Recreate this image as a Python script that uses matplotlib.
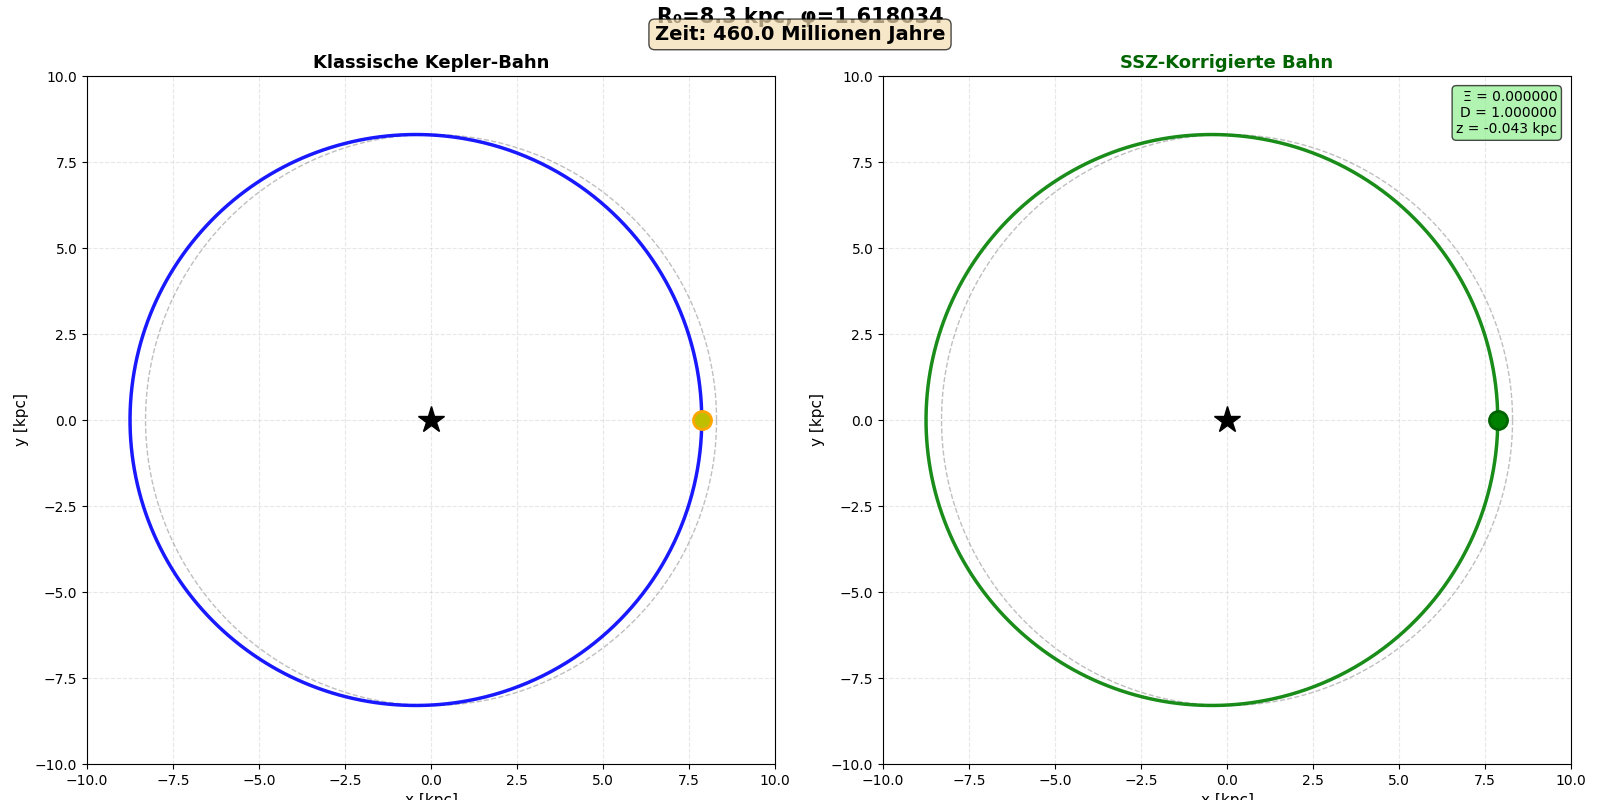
import numpy as np
import matplotlib
matplotlib.use("Agg")
import matplotlib.pyplot as plt

# Parameters
R0 = 8.3            # kpc, reference circle radius
phi = 1.618034
a_orbit = 8.31      # semi-major axis of orbit
e_orbit = 0.053     # eccentricity (focus at origin)
time_myr = 460.0
body_pos = [7.87, 0.0]
xi_val = 0.000000
d_val = 1.000000
z_val = -0.043

axis_ticks = [-10.0, -7.5, -5.0, -2.5, 0.0, 2.5, 5.0, 7.5, 10.0]

theta = np.linspace(0, 2 * np.pi, 1000)
r_orb = a_orbit * (1 - e_orbit**2) / (1 + e_orbit * np.cos(theta))
x_orb = r_orb * np.cos(theta)
y_orb = r_orb * np.sin(theta)
x_ref = R0 * np.cos(theta)
y_ref = R0 * np.sin(theta)

fig = plt.figure(figsize=(16, 8), dpi=100)
ax1 = fig.add_axes([0.0544, 0.045, 0.43, 0.86])
ax2 = fig.add_axes([0.5519, 0.045, 0.43, 0.86])

for ax, col, title, tcol, mface, medge in [
    (ax1, 'blue', 'Klassische Kepler-Bahn', 'black', 'y', 'orange'),
    (ax2, 'green', 'SSZ-Korrigierte Bahn', 'darkgreen', 'green', 'darkgreen'),
]:
    ax.plot(x_ref, y_ref, '--', color='gray', lw=1, alpha=0.5)
    ax.plot(x_orb, y_orb, '-', color=col, lw=2.5, alpha=0.9)
    ax.plot([0], [0], '*', color='black', markersize=20)
    ax.plot([body_pos[0]], [body_pos[1]], 'o', markerfacecolor=mface,
            markeredgecolor=medge, markeredgewidth=2, markersize=13)
    ax.set_xlim(-10, 10)
    ax.set_ylim(-10, 10)
    ax.set_aspect('equal')
    ax.set_xticks(axis_ticks)
    ax.set_yticks(axis_ticks)
    ax.grid(True, linestyle='--', alpha=0.3)
    ax.set_xlabel('x [kpc]', fontsize=11)
    ax.set_ylabel('y [kpc]', fontsize=11)
    ax.set_title(title, fontsize=13, fontweight='bold', color=tcol)

info = f"Ξ = {xi_val:.6f}\nD = {d_val:.6f}\nz = {z_val:.3f} kpc"
ax2.text(0.98, 0.98, info, transform=ax2.transAxes, ha='right', va='top',
         fontsize=10, bbox=dict(boxstyle='round', facecolor='lightgreen', alpha=0.7))

fig.suptitle(f"R₀={R0} kpc, φ={phi:.6f}", fontsize=15, fontweight='bold', y=0.991)
fig.text(0.5, 0.957, f"Zeit: {time_myr:.1f} Millionen Jahre", ha='center', va='center',
         fontsize=14, fontweight='bold',
         bbox=dict(boxstyle='round', facecolor='wheat', alpha=0.7))

fig.savefig('out.png', dpi=100)
